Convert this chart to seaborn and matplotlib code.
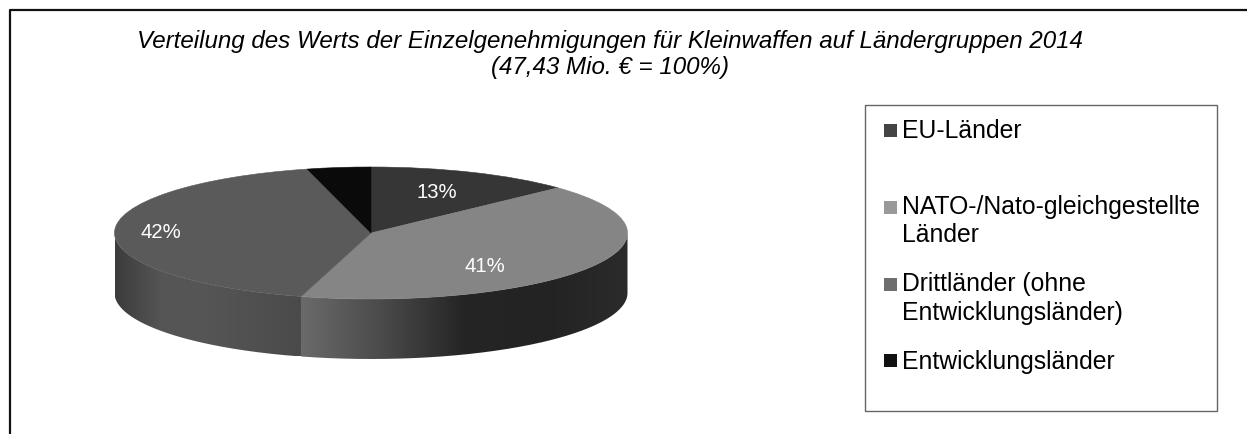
import numpy as np
import matplotlib
matplotlib.use("Agg")
import matplotlib.pyplot as plt
import matplotlib.transforms as mtransforms
from matplotlib.colors import LinearSegmentedColormap
from matplotlib.lines import Line2D
from matplotlib.patches import PathPatch, Rectangle
from matplotlib.path import Path
import seaborn as sns

# ---- data ----
categories = ["EU-Länder", "NATO-/Nato-gleichgestellte\nLänder",
              "Drittländer (ohne\nEntwicklungsländer)", "Entwicklungsländer"]
shares = [13, 41.4, 41.6, 4]
title_lines = "Verteilung des Werts der Einzelgenehmigungen für Kleinwaffen auf Ländergruppen 2014\n(47,43 Mio. € = 100%)"

# ---- styles ----
top_colors = ["#363636", "#858585", "#5a5a5a", "#0a0a0a"]
swatch_colors = ["#444444", "#999999", "#6e6e6e", "#111111"]
wall_ramps = {1: ["#6a6a6a", "#4a4a4a", "#252525", "#232323", "#2b2b2b"],
              2: ["#3c3c3c", "#555555", "#555555", "#505050", "#4a4a4a"]}
W, H = 1247, 434
CX, CY, RX, RY, DEPTH = 371, 233, 256.5, 66, 60

sns.set_theme(style="white")
plt.rcParams["font.family"] = ["Liberation Sans", "DejaVu Sans"]

fig = plt.figure(figsize=(W / 100, H / 100), dpi=100, facecolor="white")
ax = fig.add_axes([0, 0, 1, 1])
px = mtransforms.Affine2D().scale(1 / W, -1 / H).translate(0, 1) + fig.transFigure

palette = sns.color_palette(top_colors)
wedges, _, autotexts = ax.pie(shares, colors=palette, startangle=90, counterclock=False,
                              autopct="%.0f%%", radius=1, frame=False,
                              wedgeprops=dict(linewidth=0, zorder=3),
                              textprops=dict(color="white", fontsize=14.6, zorder=5))
for w, c in zip(wedges, palette):
    w.set_edgecolor(c)
    w.set_linewidth(0.4)
ax.set_aspect("auto")
ax.axis("off")

# label positions as pixel offsets from the pie centre
label_px = [(437, 192), (485, 266), (161, 232), None]
for t, p in zip(autotexts, label_px):
    if p is None:
        t.set_visible(False)
    else:
        t.set_position(((p[0] - CX) / RX, (CY - p[1]) / RY))
        t.set_ha("center")
        t.set_va("center")

# side wall, derived from the same shares
wall_h = DEPTH / RY
edges = np.deg2rad(np.cumsum([0] + shares) * 3.6)
for i, ramp in wall_ramps.items():
    a0 = max(edges[i], np.pi / 2)
    a1 = min(edges[i + 1], 3 * np.pi / 2)
    th = np.linspace(a0, a1, 200)
    x, y = np.sin(th), np.cos(th)
    verts = np.r_[np.c_[x, y], np.c_[x, y - wall_h][::-1], [[x[0], y[0]]]]
    clip = PathPatch(Path(verts), transform=ax.transData, fc="none", ec="none")
    ax.add_patch(clip)
    cmap = LinearSegmentedColormap.from_list("w", ramp)
    grad = np.linspace(0, 1, 256)[None, :]
    im = ax.imshow(grad, cmap=cmap, aspect="auto", zorder=2,
                   extent=(x.min(), x.max(), y.min() - wall_h, y.max()))
    im.set_clip_path(clip)
ax.set_aspect("auto")
ax.set_xlim(-CX / RX, (W - CX) / RX)
ax.set_ylim((CY - H) / RY, CY / RY)

# title
fig.text(610 / W, 1 - 79 / H, title_lines, ha="center", va="bottom", style="italic",
         fontsize=17.4, color="black", linespacing=1.155)

# outer frame
fig.add_artist(Line2D([10, 10, W], [H, 10, 10], transform=px, color="#111111", lw=1.6))

# legend box
fig.add_artist(Rectangle((865, 105), 352, 306, transform=px, fc="white", ec="#666666", lw=1))
legend_bottom = [143.5, 247.5, 325, 373.5]
swatch_y = [130, 207, 284, 360]
for lab, col, yy, sy in zip(categories, swatch_colors, legend_bottom, swatch_y):
    fig.add_artist(Rectangle((884, sy - 6.5), 13, 13, transform=px, fc=col, ec="none"))
    fig.text(902 / W, 1 - yy / H, lab, ha="left", va="bottom", fontsize=17.8,
             color="black", linespacing=1.245)

fig.savefig("out.png", dpi=100)
